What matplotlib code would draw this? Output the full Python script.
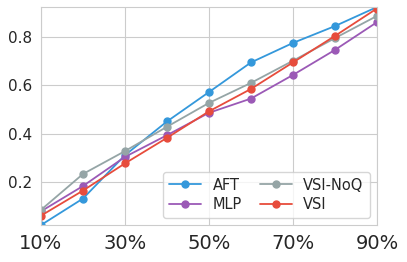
import numpy as np
import matplotlib
matplotlib.use("Agg")
import matplotlib.pyplot as plt
import seaborn as sns

# ratio of training data (percent)
ratios = [10, 20, 30, 40, 50, 60, 70, 80, 90]
tick_labels = ['10%', '30%', '50%', '70%', '90%']

aft = [0.02, 0.13, 0.31, 0.45, 0.572, 0.695, 0.776, 0.846, 0.925]
mlp = [0.077, 0.182, 0.303, 0.393, 0.486, 0.545, 0.643, 0.747, 0.862]
vsi_noq = [0.083, 0.232, 0.327, 0.428, 0.527, 0.610, 0.702, 0.796, 0.888]
vsi = [0.059, 0.163, 0.276, 0.382, 0.492, 0.585, 0.695, 0.805, 0.919]

sns.set_style("whitegrid")
plt.rcParams['font.family'] = ['DejaVu Sans']

fig = plt.figure(figsize=(4.07, 2.62), dpi=100)
ax = fig.add_axes([0.1007, 0.141, 0.8253, 0.832])

ax.plot(ratios, aft, marker='o', color='#3498db', lw=1.3, ms=5, label='AFT')
ax.plot(ratios, mlp, marker='o', color='#9b59b6', lw=1.3, ms=5, label='MLP')
ax.plot(ratios, vsi_noq, marker='o', color='#95a5a6', lw=1.3, ms=5, label='VSI-NoQ')
ax.plot(ratios, vsi, marker='o', color='#e74c3c', lw=1.3, ms=5, label='VSI')

ax.set_xlim(10, 90)
ax.set_ylim(min(aft), max(aft))
ax.set_xticks([10, 30, 50, 70, 90])
ax.set_xticklabels(tick_labels, fontsize=14)
ax.set_yticks([0.2, 0.4, 0.6, 0.8])
ax.set_yticklabels(['0.2', '0.4', '0.6', '0.8'], fontsize=11)
ax.tick_params(axis='both', colors='#262626', pad=3)
for s in ax.spines.values():
    s.set_color('#cccccc')

ax.legend(loc='lower right', ncol=2, fontsize=10.5, columnspacing=1.2,
          handlelength=2.2, borderpad=0.4, labelspacing=0.3, framealpha=0.8)

fig.savefig('out.png', dpi=100)
